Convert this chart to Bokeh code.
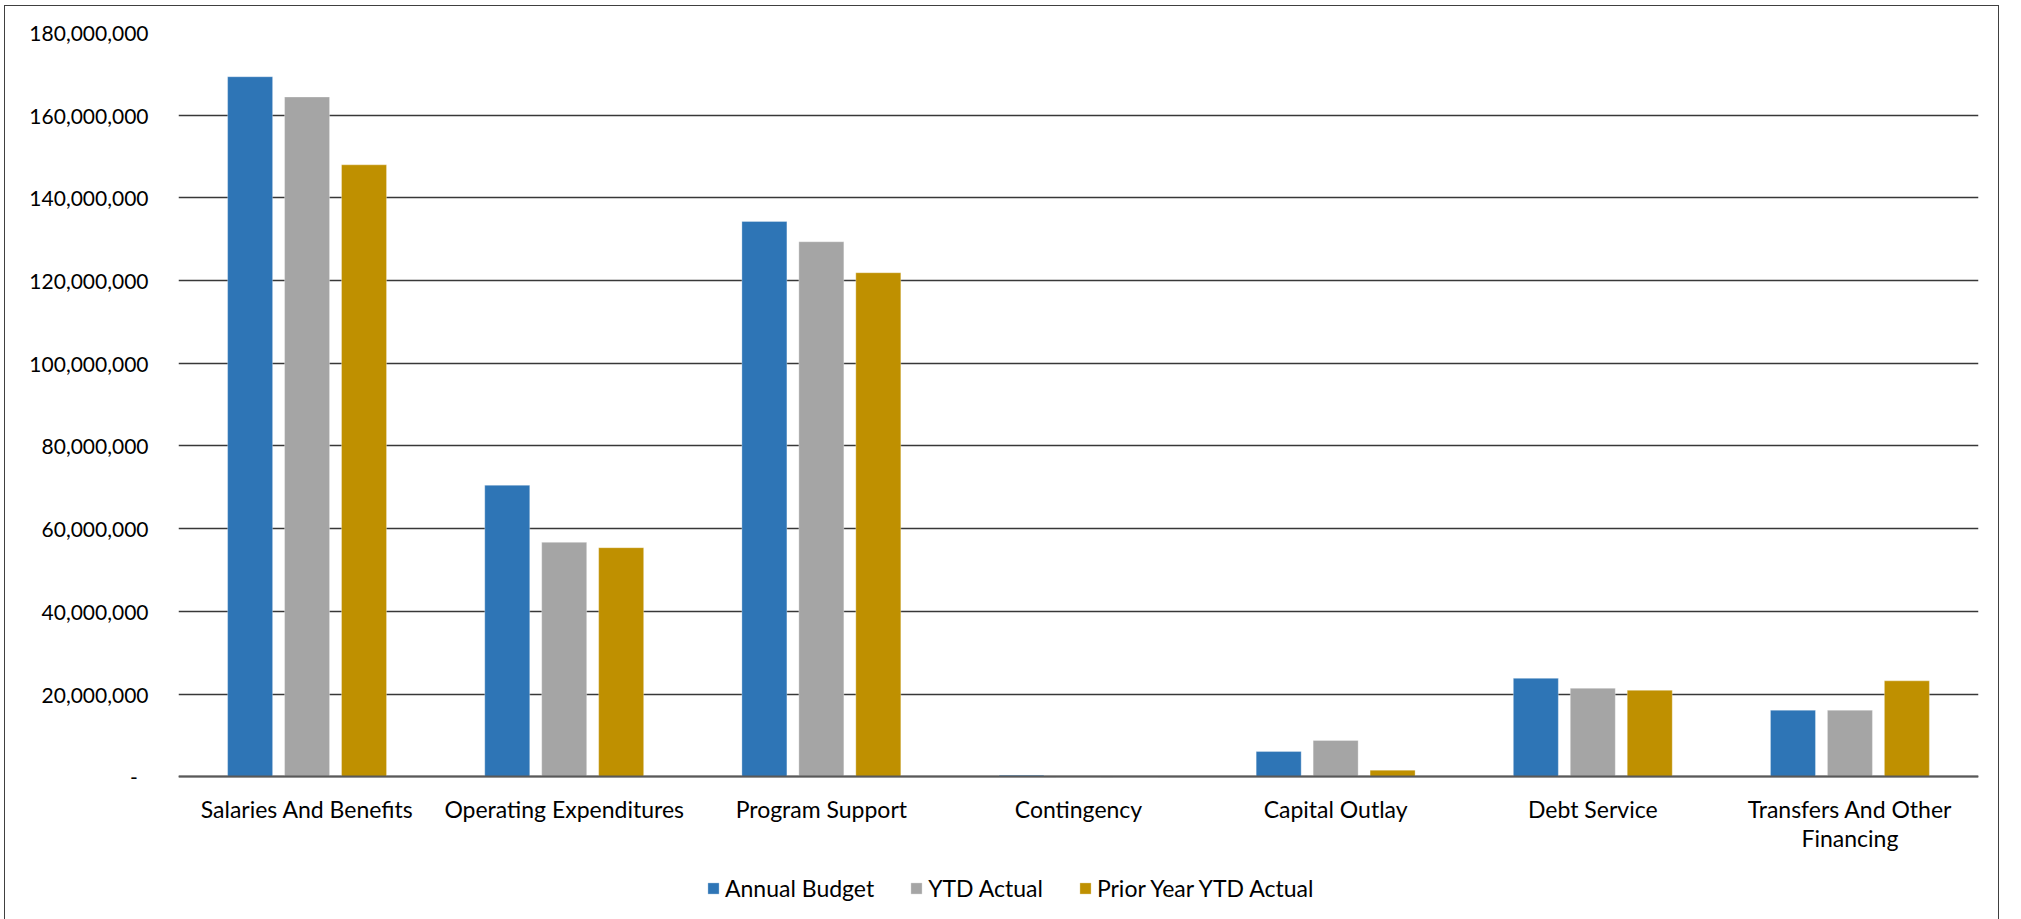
from bokeh.plotting import figure
from bokeh.models import (ColumnDataSource, FactorRange, Range1d, FixedTicker,
                          CustomJSTickFormatter, Legend, LegendItem)
from bokeh.transform import dodge
from bokeh.embed import file_html
from bokeh.resources import INLINE

# Expenditure categories and the three series compared for each
categories = [
    "Salaries And Benefits",
    "Operating Expenditures",
    "Program Support",
    "Contingency",
    "Capital Outlay",
    "Debt Service",
    "Transfers And Other\nFinancing",
]
annual_budget = [169_300_000, 70_500_000, 134_300_000, 400_000, 6_100_000, 23_800_000, 16_100_000]
ytd_actual = [164_400_000, 56_700_000, 129_400_000, 0, 8_800_000, 21_400_000, 16_100_000]
prior_year_ytd_actual = [148_000_000, 55_400_000, 121_900_000, 0, 1_600_000, 20_900_000, 23_200_000]

series_names = ["Annual Budget", "YTD Actual", "Prior Year YTD Actual"]
y_ticks = [0, 20_000_000, 40_000_000, 60_000_000, 80_000_000, 100_000_000,
           120_000_000, 140_000_000, 160_000_000, 180_000_000]

FONT = "Lato"
COLORS = ["#2E75B6", "#A5A5A5", "#BF9000"]
OFFSETS = [-0.2215, 0.0, 0.2215]
BAR_W = 0.175

source = ColumnDataSource(data=dict(
    cat=categories,
    budget=annual_budget,
    ytd=ytd_actual,
    prior=prior_year_ytd_actual,
))

# The frame runs down to the bottom edge so that the category labels and the
# legend sit below the zero line inside it.
p = figure(
    x_range=FactorRange(*categories, range_padding=0),
    y_range=Range1d(-35_000_000, y_ticks[-1]),
    width=1995, height=915,
    min_border_left=173, min_border_right=22,
    min_border_top=26, min_border_bottom=0,
    output_backend="svg", toolbar_location=None,
    background_fill_color="white", border_fill_color="white",
    outline_line_color=None,
    margin=(5, 0, 0, 4),
    styles={"border": "1px solid #404040"},
)

renderers = []
for col, off, color in zip(["budget", "ytd", "prior"], OFFSETS, COLORS):
    r = p.vbar(x=dodge("cat", off, range=p.x_range), top=col, width=BAR_W,
               source=source, fill_color=color, line_color="white",
               line_alpha=0.3, line_width=1)
    renderers.append(r)

# Gridlines
p.xgrid.grid_line_color = None
p.ygrid.grid_line_color = "#383838"
p.ygrid.grid_line_width = 1.3
p.ygrid.ticker = FixedTicker(ticks=y_ticks)

# Y axis: accounting-style labels with a dash for zero
p.yaxis.ticker = FixedTicker(ticks=y_ticks)
p.yaxis.formatter = CustomJSTickFormatter(code="""
    if (tick == 0) { return "-\\u00a0\\u00a0"; }
    return Math.round(tick).toLocaleString("en-US");
""")
p.yaxis.axis_line_color = None
p.yaxis.major_tick_line_color = None
p.yaxis.minor_tick_line_color = None
p.yaxis.major_tick_out = 0
p.yaxis.major_label_standoff = 30
p.yaxis.major_label_text_font = FONT
p.yaxis.major_label_text_font_size = "21px"
p.yaxis.major_label_text_color = "black"

# X axis: the category baseline, pinned at zero
p.xaxis.fixed_location = 0
p.xaxis.axis_line_color = "#595959"
p.xaxis.axis_line_width = 2
p.xaxis.major_tick_line_color = None
p.xaxis.minor_tick_line_color = None
p.xaxis.major_tick_out = 0
p.xaxis.major_label_standoff = 18
p.xaxis.major_label_text_font = FONT
p.xaxis.major_label_text_font_size = "23px"
p.xaxis.major_label_text_color = "black"
p.xaxis.major_label_text_line_height = 1.05

legend = Legend(
    items=[LegendItem(label=n, renderers=[r]) for n, r in zip(series_names, renderers)],
    orientation="horizontal",
    location=(528, 19),
    glyph_width=14, glyph_height=14,
    label_standoff=5, spacing=35,
    padding=0, margin=0,
    border_line_alpha=0, background_fill_alpha=0,
    label_text_font=FONT, label_text_font_size="23px",
    label_text_color="black",
)
p.add_layout(legend, "center")

open("out.html", "w").write(file_html(p, INLINE))
